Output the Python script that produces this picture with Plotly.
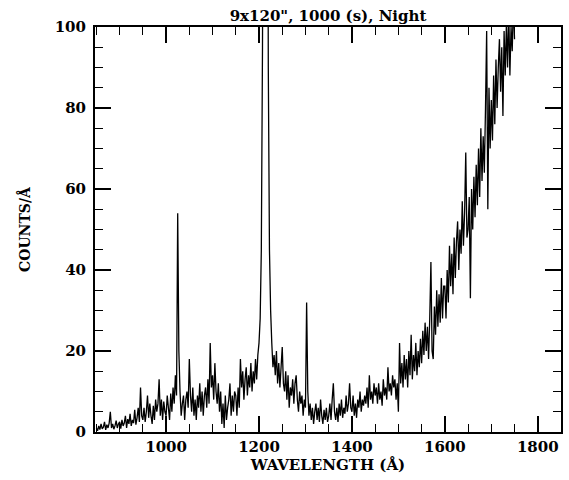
import numpy as np
import plotly.graph_objects as go

# Wavelength sampling grid (Angstrom), 2.5 A steps
wl_start = 850
wl_step = 2.5

# Counts per Angstrom, one row per 50 A (20 samples)
counts = [
    # 850
    1.0, 0.3, 1.5, 0.6, 2.0, 0.8, 1.2, 2.5, 0.5, 1.8, 1.0, 2.2, 5.0, 1.0, 2.0, 0.7, 1.5, 2.8, 1.0, 2.0,
    # 900
    2.5, 0.8, 3.0, 1.5, 2.2, 4.0, 1.0, 3.2, 2.0, 4.5, 1.5, 3.0, 2.2, 5.5, 1.8, 3.5, 6.0, 2.5, 11.0, 4.0,
    # 950
    3.0, 6.0, 2.5, 5.0, 9.0, 3.5, 7.0, 4.0, 2.0, 6.5, 3.0, 8.0, 5.0, 7.0, 13.0, 4.0, 8.0, 3.0, 7.5, 5.0,
    # 1000
    4.0, 9.0, 6.0, 3.0, 9.5, 5.0, 11.0, 7.0, 14.0, 9.0, 54.0, 20.0, 10.0, 4.0, 7.0, 9.0, 3.0, 8.0, 10.0, 6.0,
    # 1050
    18.0, 9.0, 5.0, 11.0, 4.0, 8.0, 3.0, 9.0, 6.0, 12.0, 5.0, 10.0, 4.0, 9.0, 11.0, 6.0, 13.0, 7.0, 22.0, 11.0,
    # 1100
    14.0, 8.0, 17.0, 10.0, 7.0, 12.0, 5.0, 10.0, 2.0, 7.0, 1.0, 9.0, 3.0, 6.0, 8.0, 12.0, 4.0, 9.0, 5.0, 10.0,
    # 1150
    9.0, 4.0, 11.0, 6.0, 18.0, 11.0, 15.0, 8.0, 13.0, 16.0, 9.0, 14.0, 11.0, 17.0, 10.0, 15.0, 12.0, 18.0, 13.0, 19.0,
    # 1200
    22.0, 28.0, 45.0, 95.0, 200.0, 320.0, 330.0, 210.0, 90.0, 45.0, 30.0, 22.0, 16.0, 19.0, 14.0, 20.0, 12.0, 17.0, 11.0, 16.0,
    # 1250
    21.0, 12.0, 10.0, 15.0, 8.0, 14.0, 6.0, 11.0, 9.0, 13.0, 7.0, 12.0, 14.0, 8.0, 5.0, 10.0, 7.0, 9.0, 4.0, 8.0,
    # 1300
    6.0, 32.0, 10.0, 4.0, 7.0, 3.0, 6.0, 2.0, 5.0, 7.0, 3.0, 6.0, 2.5, 8.0, 4.0, 2.0, 5.5, 3.0, 6.0, 2.5,
    # 1350
    4.0, 7.0, 3.0, 8.0, 12.0, 5.0, 3.0, 6.0, 2.5, 7.0, 4.0, 8.0, 3.5, 6.0, 4.5, 9.0, 5.0, 7.0, 12.0, 6.0,
    # 1400
    5.0, 9.0, 4.0, 7.0, 3.5, 8.0, 6.0, 10.0, 5.0, 8.0, 6.5, 9.0, 7.0, 11.0, 6.0, 14.0, 8.0, 10.0, 7.0, 12.0,
    # 1450
    9.0, 11.0, 7.0, 12.0, 8.0, 10.0, 6.5, 13.0, 9.0, 11.0, 8.0, 16.0, 10.0, 12.0, 9.0, 14.0, 11.0, 13.0, 8.0, 12.0,
    # 1500
    5.0, 22.0, 12.0, 17.0, 11.0, 19.0, 13.0, 18.0, 11.0, 20.0, 14.0, 24.0, 13.0, 19.0, 15.0, 22.0, 14.0, 20.0, 16.0, 23.0,
    # 1550
    17.0, 25.0, 19.0, 27.0, 20.0, 26.0, 18.0, 28.0, 42.0, 20.0, 18.0, 31.0, 24.0, 35.0, 26.0, 34.0, 27.0, 38.0, 28.0, 36.0,
    # 1600
    36.0, 28.0, 40.0, 32.0, 46.0, 36.0, 44.0, 34.0, 48.0, 38.0, 47.0, 52.0, 40.0, 50.0, 44.0, 57.0, 46.0, 54.0, 69.0, 48.0,
    # 1650
    50.0, 58.0, 33.0, 60.0, 50.0, 63.0, 53.0, 66.0, 56.0, 70.0, 58.0, 75.0, 62.0, 73.0, 64.0, 80.0, 99.0, 55.0, 85.0, 70.0,
    # 1700
    82.0, 72.0, 88.0, 76.0, 92.0, 80.0, 90.0, 97.0, 84.0, 95.0, 78.0, 99.0, 88.0, 101.0, 90.0, 104.0, 88.0, 100.0, 94.0, 106.0,
    # 1750
    97.0,
]
wavelength = wl_start + wl_step * np.arange(len(counts))

x_ticks = [1000, 1200, 1400, 1600, 1800]
y_ticks = [0, 20, 40, 60, 80, 100]

title_text = '9x120", 1000 (s), Night'
x_title = "WAVELENGTH (Å)"
y_title = "COUNTS/Å"

FONT = "DejaVu Serif"

fig = go.Figure()
fig.add_trace(go.Scatter(
    x=wavelength, y=counts, mode="lines",
    line=dict(color="black", width=1.3, simplify=False),
    showlegend=False, hoverinfo="skip",
))

axis_common = dict(
    showline=True, linecolor="black", linewidth=2, mirror="allticks",
    ticks="inside", tickcolor="black", tickwidth=1.5, ticklen=16,
    showgrid=False, zeroline=False,
    tickfont=dict(family=FONT, size=15, color="black", weight="bold"),
)

fig.update_xaxes(
    range=[847, 1850], tickvals=x_ticks, ticktext=[str(v) for v in x_ticks],
    minor=dict(ticks="inside", dtick=50, tick0=0, ticklen=8, tickwidth=1.2, tickcolor="black"),
    title=dict(text=x_title, font=dict(family=FONT, size=15, color="black", weight="bold"), standoff=4),
    **axis_common,
)
fig.update_yaxes(
    range=[0, 100], tickvals=y_ticks, ticktext=[str(v) for v in y_ticks],
    minor=dict(ticks="inside", dtick=5, tick0=0, ticklen=8, tickwidth=1.2, tickcolor="black"),
    title=dict(text=y_title, font=dict(family=FONT, size=14, color="black", weight="bold"), standoff=21),
    ticklabelstandoff=4,
    **axis_common,
)

fig.update_layout(
    width=569, height=480,
    margin=dict(l=95, r=6, t=27, b=48),
    paper_bgcolor="white", plot_bgcolor="white",
    title=dict(text=title_text, x=0.5, xref="paper", xanchor="center",
               y=1 - 16 / 480, yref="container", yanchor="middle",
               font=dict(family=FONT, size=15, color="black", weight="bold")),
)

fig.write_html("out.html")
